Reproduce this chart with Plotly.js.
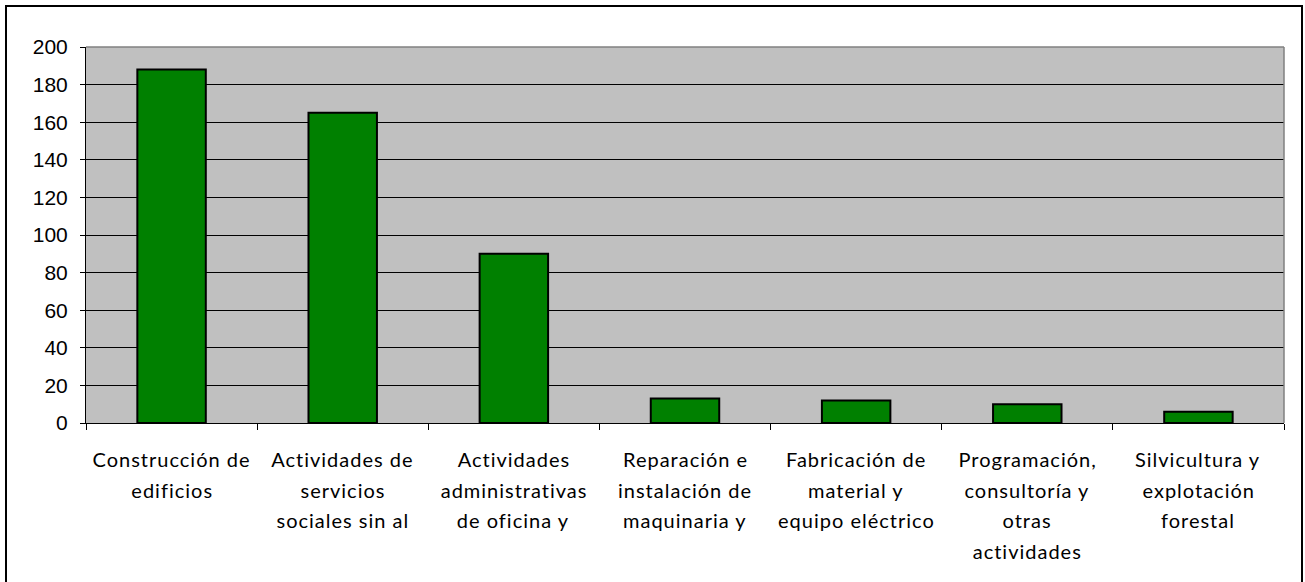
<!DOCTYPE html>
<html>
<head>
<meta charset="utf-8">
<script src="https://cdn.plot.ly/plotly-3.0.1.min.js"></script>
<style>
html,body{margin:0;padding:0;background:#fff;}
#wrap{position:relative;width:1305px;height:582px;}
#chart{position:absolute;left:0;top:0;width:1305px;height:582px;}
#frame{position:absolute;left:5px;top:5px;width:1294px;height:580px;border:2.5px solid #000;box-sizing:content-box;pointer-events:none;}
#chart .annotation-text{letter-spacing:1px;}
</style>
</head>
<body>
<div id="wrap"><div id="chart"></div><div id="frame"></div></div>
<script>
const labelLines = [
  ["Construcción de", "edificios"],
  ["Actividades de", "servicios", "sociales sin al"],
  ["Actividades", "administrativas", "de oficina y"],
  ["Reparación e", "instalación de", "maquinaria y"],
  ["Fabricación de", "material y", "equipo eléctrico"],
  ["Programación,", "consultoría y", "otras", "actividades"],
  ["Silvicultura y", "explotación", "forestal"]
];
const values = [188, 165, 90, 13, 12, 10, 6];
const yTicks = [0, 20, 40, 60, 80, 100, 120, 140, 160, 180, 200];

const categories = labelLines.map(l => l.join(" "));

const annotations = [];
labelLines.forEach((lines, i) => {
  lines.forEach((t, j) => {
    annotations.push({
      x: categories[i], xref: "x", y: 0, yref: "paper",
      yanchor: "middle", xanchor: "center",
      yshift: -(36 + j * 30.5),
      text: t, showarrow: false,
      font: {family: "Lato, 'Open Sans', sans-serif", size: 20, color: "#000"}
    });
  });
});

const data = [{
  type: "bar",
  x: categories,
  y: values,
  marker: {color: "#008000", line: {color: "#000", width: 2}},
  hoverinfo: "skip"
}];

const layout = {
  width: 1305, height: 582,
  margin: {l: 86, r: 21, t: 47, b: 159},
  paper_bgcolor: "#fff",
  plot_bgcolor: "#C0C0C0",
  bargap: 0.6,
  showlegend: false,
  xaxis: {
    type: "category",
    showticklabels: false,
    tickson: "boundaries",
    ticks: "outside", ticklen: 6, tickcolor: "#000", tickwidth: 1,
    showline: true, linecolor: "#000", linewidth: 1,
    showgrid: false, zeroline: false,
    fixedrange: true
  },
  yaxis: {
    range: [0, 200],
    tickvals: yTicks,
    ticktext: yTicks.map(String),
    ticks: "outside", ticklen: 5, tickcolor: "#000",
    showline: true, linecolor: "#000", linewidth: 1,
    showgrid: true, gridcolor: "#000", gridwidth: 1,
    zeroline: false,
    tickfont: {family: "'Liberation Sans', Arial, sans-serif", size: 21, color: "#000"},
    ticklabelstandoff: 8,
    fixedrange: true
  },
  shapes: [
    {type: "line", xref: "paper", yref: "paper", x0: 0, x1: 1, y0: 1, y1: 1, line: {color: "#808080", width: 1.5}},
    {type: "line", xref: "paper", yref: "paper", x0: 1, x1: 1, y0: 0, y1: 1, line: {color: "#808080", width: 1.5}}
  ],
  annotations: annotations
};

Plotly.newPlot("chart", data, layout, {displayModeBar: false, staticPlot: true});
</script>
</body>
</html>
